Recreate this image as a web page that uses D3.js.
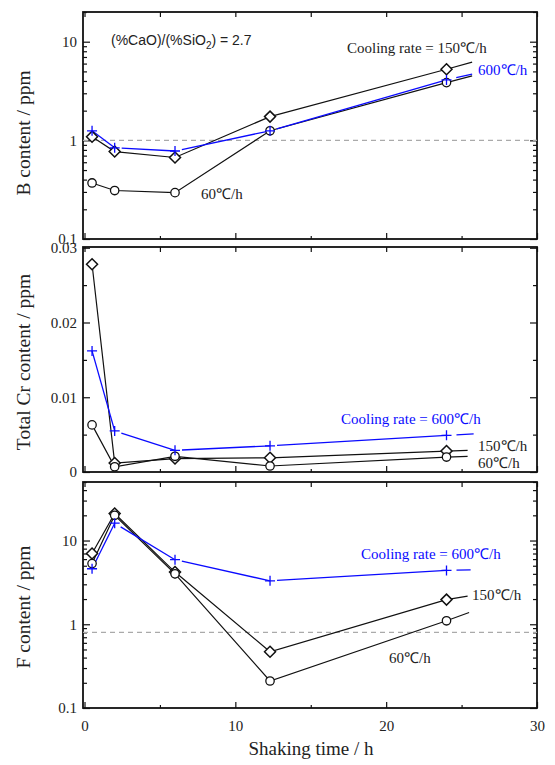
<!DOCTYPE html>
<html>
<head>
<meta charset="utf-8">
<script src="https://cdnjs.cloudflare.com/ajax/libs/d3/7.8.5/d3.min.js"></script>
<style>
body { margin: 0; background: #fff; }
svg text { font-family: 'Liberation Serif', 'Times New Roman', serif; fill: #222; }
</style>
</head>
<body>
<script>
// shaking time of each sample (h)
var times = [0.5, 2, 6, 12.3, 24];

// B content (ppm) per cooling rate, tail = end of the line past the last point [h, value]
var b60 = [0.37, 0.31, 0.295, 1.25, 3.85];
var b150 = [1.09, 0.77, 0.67, 1.74, 5.26];
var b600 = [1.25, 0.84, 0.78, 1.25, 4.1];
var bTail60 = [25.7, 4.5];
var bTail150 = [25.7, 6.2];
var bTail600 = [25.7, 4.7];
var bRef = 1;

// total Cr content (ppm)
var cr60 = [0.0063, 0.0007, 0.0021, 0.0008, 0.0020];
var cr150 = [0.0278, 0.0012, 0.0018, 0.0019, 0.0028];
var cr600 = [0.0162, 0.0055, 0.0029, 0.0035, 0.0049];
var crTail60 = [25.4, 0.0021];
var crTail150 = [25.4, 0.0029];
var crTail600 = [25.8, 0.0051];

// F content (ppm)
var f60 = [5.3, 20, 4.0, 0.21, 1.1];
var f150 = [7.0, 21, 4.2, 0.47, 1.97];
var f600 = [4.6, 16.1, 5.9, 3.3, 4.4];
var fTail60 = [25.5, 1.38];
var fTail150 = [25.4, 2.17];
var fTail600 = [25.6, 4.47];
var fRef = 0.8;

var xTicks = [0, 10, 20, 30];
var xMinorTicks = [5, 15, 25];

var width = 555, height = 765;
var left = 83, right = 537;
var blue = "#0a0aff";
var serif = "'Liberation Serif', 'Times New Roman', serif";

var svg = d3.select("body").append("svg")
	.attr("width", width)
	.attr("height", height);

var x = d3.scaleLinear().domain([-0.1, 30]).range([left, right]);

var panels = [
	{top: 12, bottom: 239, log: true, domain: [0.1, 20], major: [0.1, 1, 10],
		title: "B content / ppm", titleY: 133, ref: bRef,
		s60: b60, s150: b150, s600: b600, t60: bTail60, t150: bTail150, t600: bTail600},
	{top: 247, bottom: 472, log: false, domain: [0, 0.0301], major: [0, 0.01, 0.02, 0.03],
		minor: [0.005, 0.015, 0.025], title: "Total Cr content / ppm", titleY: 362,
		s60: cr60, s150: cr150, s600: cr600, t60: crTail60, t150: crTail150, t600: crTail600},
	{top: 482, bottom: 708, log: true, domain: [0.1, 50], major: [0.1, 1, 10],
		title: "F content / ppm", titleY: 607, ref: fRef, xLabels: true,
		s60: f60, s150: f150, s600: f600, t60: fTail60, t150: fTail150, t600: fTail600}
];

function fmtTick(d) {
	if (d === 0) return "0";
	return String(d);
}

panels.forEach(function(p) {
	var y = (p.log ? d3.scaleLog() : d3.scaleLinear())
		.domain(p.domain)
		.range([p.bottom, p.top]);
	var minor = p.minor || y.ticks().filter(function(d) { return p.major.indexOf(d) < 0; });
	var g = svg.append("g");

	// axes, all ticks pointing inward
	g.append("g").attr("transform", "translate(" + left + ",0)")
		.call(d3.axisLeft(y).tickValues(p.major).tickSizeInner(-7).tickSizeOuter(0).tickPadding(6).tickFormat(fmtTick));
	g.append("g").attr("transform", "translate(" + left + ",0)")
		.call(d3.axisLeft(y).tickValues(minor).tickSizeInner(-4).tickSizeOuter(0).tickFormat(""));
	g.append("g").attr("transform", "translate(" + right + ",0)")
		.call(d3.axisRight(y).tickValues(p.major).tickSizeInner(-7).tickSizeOuter(0).tickFormat(""));
	g.append("g").attr("transform", "translate(" + right + ",0)")
		.call(d3.axisRight(y).tickValues(minor).tickSizeInner(-4).tickSizeOuter(0).tickFormat(""));
	g.append("g").attr("transform", "translate(0," + p.top + ")")
		.call(d3.axisTop(x).tickValues(xTicks.concat(xMinorTicks)).tickSizeInner(-5).tickSizeOuter(0).tickFormat(""));
	g.append("g").attr("transform", "translate(0," + p.bottom + ")")
		.call(d3.axisBottom(x).tickValues(xTicks).tickSizeInner(-6).tickSizeOuter(0).tickPadding(12)
			.tickFormat(p.xLabels ? d3.format("d") : ""));
	g.append("g").attr("transform", "translate(0," + p.bottom + ")")
		.call(d3.axisBottom(x).tickValues(xMinorTicks).tickSizeInner(-3).tickSizeOuter(0).tickFormat(""));

	g.selectAll(".domain").remove();
	g.selectAll("g").attr("font-family", serif).attr("font-size", 15);
	g.selectAll(".tick line").attr("stroke", "#111").attr("stroke-width", 1.2);
	g.selectAll(".tick text").attr("fill", "#222");

	g.append("rect")
		.attr("x", left).attr("y", p.top)
		.attr("width", right - left).attr("height", p.bottom - p.top)
		.attr("fill", "none").attr("stroke", "#111").attr("stroke-width", 1.8);

	g.append("text")
		.attr("transform", "translate(30," + p.titleY + ") rotate(-90)")
		.attr("text-anchor", "middle")
		.style("font-size", "19.5px")
		.text(p.title);

	if (p.ref !== undefined) {
		g.append("line")
			.attr("x1", left).attr("x2", right)
			.attr("y1", y(p.ref)).attr("y2", y(p.ref))
			.attr("stroke", "#aaa").attr("stroke-width", 1.2)
			.attr("stroke-dasharray", "5,4");
	}

	function pts(s, tail) {
		var a = times.map(function(t, i) { return [x(t), y(s[i])]; });
		a.push([x(tail[0]), y(tail[1])]);
		return a;
	}

	var line = d3.line();
	[[p.s150, p.t150], [p.s60, p.t60]].forEach(function(s) {
		g.append("path").attr("d", line(pts(s[0], s[1])))
			.attr("fill", "none").attr("stroke", "#111").attr("stroke-width", 1.2);
	});

	// blue line leaves a small gap after each marker
	var bp = pts(p.s600, p.t600);
	for (var i = 0; i < bp.length - 1; i++) {
		var a = bp[i], b = bp[i + 1];
		var dx = b[0] - a[0], dy = b[1] - a[1], len = Math.sqrt(dx * dx + dy * dy);
		var gap = i === 0 ? 0 : (i === bp.length - 2 ? 10 : 7);
		g.append("line")
			.attr("x1", a[0] + dx / len * gap).attr("y1", a[1] + dy / len * gap)
			.attr("x2", b[0]).attr("y2", b[1])
			.attr("stroke", blue).attr("stroke-width", 1.3);
	}

	g.selectAll(".dia").data(p.s150).enter().append("path")
		.attr("d", "M0,-5.5L5.5,0L0,5.5L-5.5,0Z")
		.attr("transform", function(d, i) { return "translate(" + x(times[i]) + "," + y(d) + ")"; })
		.attr("fill", "#fff").attr("stroke", "#111").attr("stroke-width", 1.5);

	g.selectAll(".circ").data(p.s60).enter().append("circle")
		.attr("cx", function(d, i) { return x(times[i]); })
		.attr("cy", function(d) { return y(d); })
		.attr("r", 4.2)
		.attr("fill", "#fff").attr("stroke", "#111").attr("stroke-width", 1.3);

	g.selectAll(".plus").data(p.s600).enter().append("path")
		.attr("d", "M-5,0H5M0,-5V5")
		.attr("transform", function(d, i) { return "translate(" + x(times[i]) + "," + y(d) + ")"; })
		.attr("fill", "none").attr("stroke", blue).attr("stroke-width", 1.3);
});

// annotations
var ratio = svg.append("text")
	.attr("x", 111).attr("y", 45)
	.style("font-family", "'Liberation Sans', Arial, sans-serif")
	.style("font-size", "14px");
ratio.append("tspan").text("(%CaO)/(%SiO");
ratio.append("tspan").attr("dy", 4).style("font-size", "10px").text("2");
ratio.append("tspan").attr("dy", -4).text(") = 2.7");

function note(txt, xp, yp, col) {
	svg.append("text")
		.attr("x", xp).attr("y", yp)
		.style("font-size", "15px")
		.style("fill", col || "#222")
		.text(txt);
}

note("Cooling rate = 150\u2103/h", 347, 53);
note("600\u2103/h", 478, 75, blue);
note("60\u2103/h", 201, 199);

note("Cooling rate = 600\u2103/h", 341, 424, blue);
note("150\u2103/h", 478, 451);
note("60\u2103/h", 478, 468);

note("Cooling rate = 600\u2103/h", 361, 559, blue);
note("150\u2103/h", 472, 600);
note("60\u2103/h", 389, 663);

svg.append("text")
	.attr("x", 311).attr("y", 755)
	.attr("text-anchor", "middle")
	.style("font-size", "19px")
	.text("Shaking time / h");
</script>
</body>
</html>
